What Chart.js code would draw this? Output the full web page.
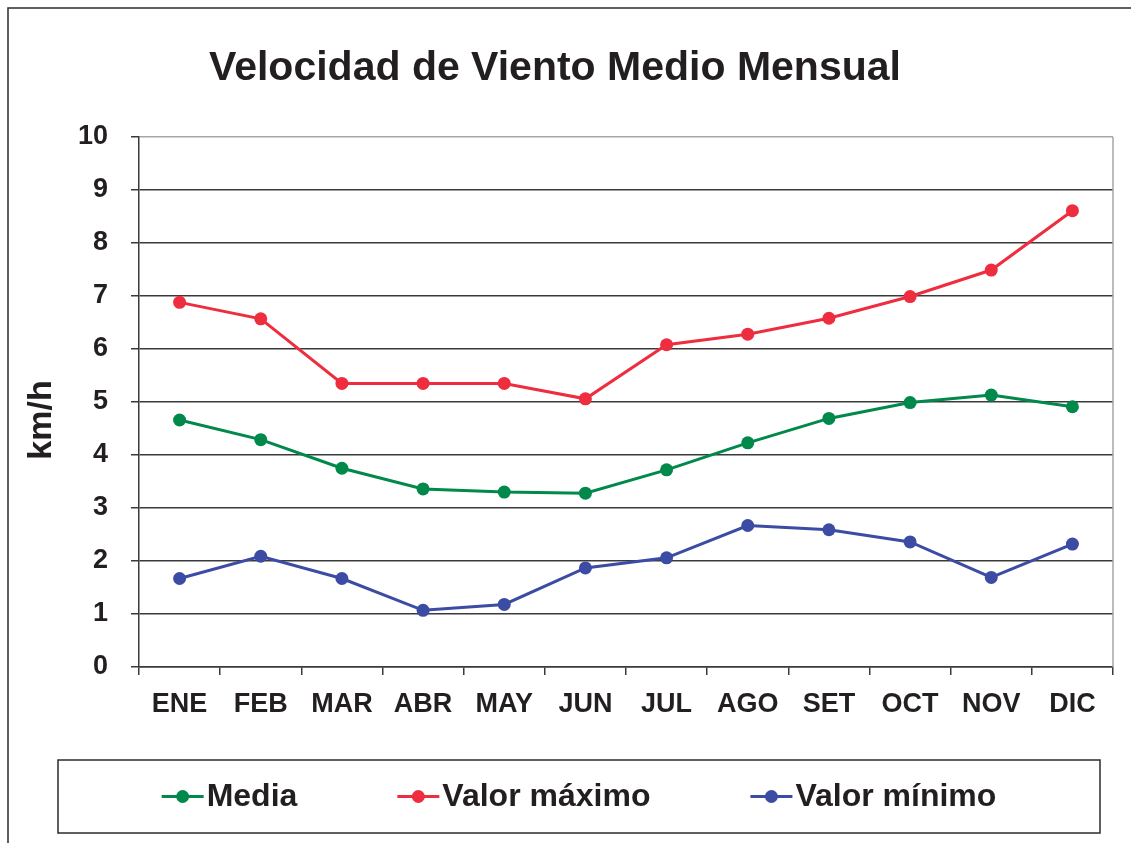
<!DOCTYPE html>
<html>
<head>
<meta charset="utf-8">
<script src="https://cdn.jsdelivr.net/npm/chart.js@4/dist/chart.umd.min.js"></script>
<style>
html,body{margin:0;padding:0;background:#fff}
</style>
</head>
<body>
<canvas id="viento" width="1131" height="843"></canvas>
<script>
// datos (km/h)
const meses = ["ENE","FEB","MAR","ABR","MAY","JUN","JUL","AGO","SET","OCT","NOV","DIC"]
const media  = [4.66, 4.29, 3.75, 3.36, 3.30, 3.28, 3.72, 4.23, 4.69, 4.99, 5.13, 4.91]
const maximo = [6.88, 6.57, 5.35, 5.35, 5.35, 5.06, 6.08, 6.28, 6.58, 6.99, 7.49, 8.61]
const minimo = [1.67, 2.09, 1.67, 1.07, 1.18, 1.87, 2.06, 2.67, 2.59, 2.36, 1.69, 2.32]
const yMin = 0
const yMax = 10
const yStep = 1

const titulo = "Velocidad de Viento Medio Mensual"
const ejeY = "km/h"

const fuente = "'Liberation Sans', Arial, sans-serif"
const texto = "#231f20"
const lineaOscura = "#3a3a3a"
const lineaGris = "#a6a6a6"

function serie(label, data, color){
return {
label:label,
data:data,
borderColor:color,
backgroundColor:color,
borderWidth:3,
pointRadius:6.5,
pointHoverRadius:6.5,
pointBorderWidth:0,
tension:0
}
}

// marco, titulo, eje Y, borde del area y leyenda en caja
const extras = {
id:"extras",
beforeDatasetsDraw(chart){
const ctx = chart.ctx
const a = chart.chartArea
ctx.save()
ctx.strokeStyle = lineaGris
ctx.lineWidth = 1.5
ctx.beginPath()
ctx.moveTo(a.right, a.top)
ctx.lineTo(a.right, a.bottom)
ctx.stroke()
ctx.restore()
},
afterDraw(chart){
const ctx = chart.ctx
ctx.save()

// marco exterior
ctx.strokeStyle = "#2b2b2b"
ctx.lineWidth = 1.5
ctx.strokeRect(8, 8, 1300, 1000)

// titulo
ctx.fillStyle = texto
ctx.font = "bold 41px " + fuente
ctx.textAlign = "center"
ctx.textBaseline = "alphabetic"
ctx.fillText(titulo, 555, 80)

// titulo del eje Y
ctx.save()
ctx.translate(42, 420)
ctx.rotate(-Math.PI/2)
ctx.font = "bold 34px " + fuente
ctx.textBaseline = "middle"
ctx.fillText(ejeY, 0, 0)
ctx.restore()

// leyenda
const box = {x:58, y:760, w:1042, h:73}
ctx.strokeStyle = "#2b2b2b"
ctx.lineWidth = 1.5
ctx.strokeRect(box.x, box.y, box.w, box.h)

ctx.font = "bold 32px " + fuente
ctx.textAlign = "left"
ctx.textBaseline = "middle"
const ds = chart.data.datasets
const marca = 42, sep = 3, hueco = 100
const anchos = ds.map(d => marca + sep + ctx.measureText(d.label).width)
const total = anchos.reduce((s,v)=>s+v,0) + hueco*(ds.length-1)
let x = box.x + (box.w - total)/2
const cy = box.y + box.h/2
ds.forEach((d,i)=>{
ctx.strokeStyle = d.borderColor
ctx.fillStyle = d.borderColor
ctx.lineWidth = 3
ctx.beginPath()
ctx.moveTo(x, cy)
ctx.lineTo(x + marca, cy)
ctx.stroke()
ctx.beginPath()
ctx.arc(x + marca/2, cy, 6.5, 0, Math.PI*2)
ctx.fill()
ctx.fillStyle = texto
ctx.fillText(d.label, x + marca + sep, cy + 1)
x += anchos[i] + hueco
})

ctx.restore()
}
}

new Chart(document.getElementById("viento"),{
type:"line",
data:{
labels:meses,
datasets:[
serie("Media", media, "#00894a"),
serie("Valor máximo", maximo, "#ee2d3e"),
serie("Valor mínimo", minimo, "#3c4ba4")
]
},
options:{
responsive:false,
animation:false,
devicePixelRatio:1,
layout:{padding:{top:137, left:8, right:18, bottom:100}},
plugins:{
legend:{display:false},
title:{display:false},
tooltip:{enabled:false}
},
scales:{
x:{
offset:true,
grid:{
offset:true,
drawOnChartArea:false,
drawTicks:true,
tickLength:8,
color:lineaOscura,
lineWidth:1.5
},
border:{color:lineaOscura, width:1.5},
ticks:{
color:texto,
padding:13,
maxRotation:0,
autoSkip:false,
font:{family:fuente, size:27, weight:"bold"}
},
afterFit(s){ s.height = 76 }
},
y:{
min:yMin,
max:yMax,
grid:{
color:c => c.tick && c.tick.value === yMax ? lineaGris : lineaOscura,
tickColor:lineaOscura,
lineWidth:1.5,
tickLength:8
},
border:{color:lineaOscura, width:1.5},
ticks:{
stepSize:yStep,
color:texto,
padding:23,
font:{family:fuente, size:27, weight:"bold"}
},
afterFit(s){ s.width = 131 }
}
}
},
plugins:[extras]
})
</script>
</body>
</html>
